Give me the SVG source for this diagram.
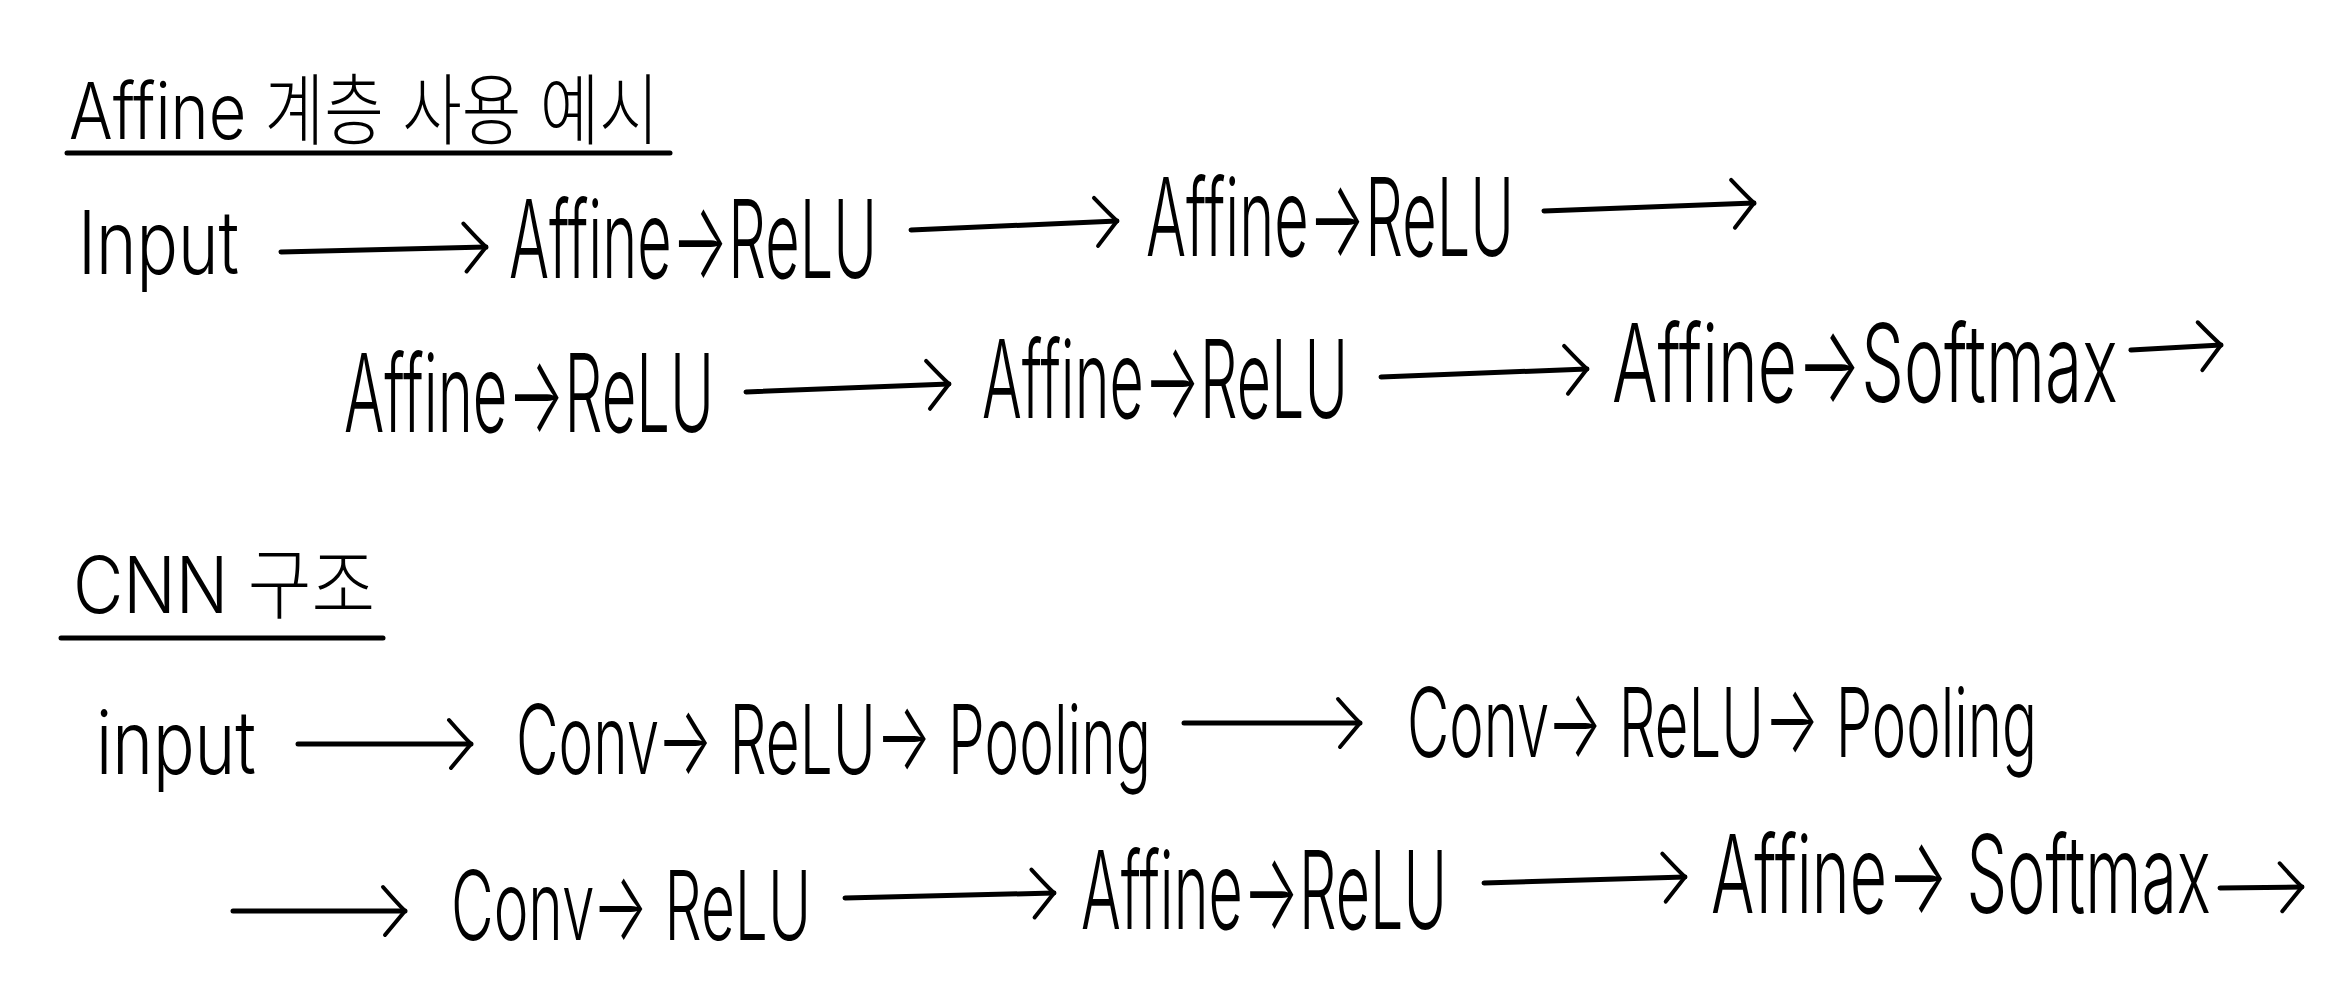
<svg xmlns="http://www.w3.org/2000/svg" width="2343" height="1000" viewBox="0 0 2343 1000">
<style>
.t{font-family:Inter,"Liberation Sans","Noto Sans CJK KR",sans-serif;font-weight:300;fill:#000}
.a{font-size:108px}
.v{font-size:96px}
.h{font-family:Inter,"Noto Sans CJK KR","Liberation Sans",sans-serif;font-weight:300;fill:#000;font-size:78px}
.ul{stroke:#000;stroke-width:5;stroke-linecap:round}
.c{stroke:#000;stroke-width:5;fill:none;stroke-linecap:round}
</style>
<defs>
<marker id="ah" viewBox="-28 -30 34 60" markerWidth="34" markerHeight="60" markerUnits="userSpaceOnUse" refX="0" refY="0" orient="auto">
<path d="M -22 -24 Q -8 -8 0 0 Q -10 12 -20 24" fill="none" stroke="#000" stroke-width="4" stroke-linecap="round" stroke-linejoin="round"/>
</marker>
</defs>
<rect width="2343" height="1000" fill="#fff"/>
<g id="title1">
<text class="h" x="69" y="139" textLength="590" lengthAdjust="spacingAndGlyphs">Affine 계층 사용 예시</text>
<line class="ul" x1="67" y1="153" x2="670" y2="153"/>
</g>
<g id="title2">
<text class="h" x="73" y="613" textLength="302" lengthAdjust="spacingAndGlyphs">CNN 구조</text>
<line class="ul" x1="61" y1="638" x2="383" y2="638"/>
</g>
<g id="input1"><text class="t" x="78" y="274" font-size="88" textLength="161" lengthAdjust="spacingAndGlyphs">Input</text></g>
<g id="affrelu1"><text class="t a" x="509" y="278" textLength="368" lengthAdjust="spacingAndGlyphs">Affine→ReLU</text></g>
<g id="affrelu2"><text class="t a" x="1146" y="256" textLength="368" lengthAdjust="spacingAndGlyphs">Affine→ReLU</text></g>
<g id="affrelu3"><text class="t a" x="344" y="432" textLength="370" lengthAdjust="spacingAndGlyphs">Affine→ReLU</text></g>
<g id="affrelu4"><text class="t a" x="982" y="418" textLength="366" lengthAdjust="spacingAndGlyphs">Affine→ReLU</text></g>
<g id="affsoft1"><text class="t a" x="1612" y="402" textLength="506" lengthAdjust="spacingAndGlyphs">Affine→Softmax</text></g>
<g id="input2"><text class="t" x="96" y="774" font-size="88" textLength="160" lengthAdjust="spacingAndGlyphs">input</text></g>
<g id="crp1"><text class="t v" x="516" y="774" textLength="635" lengthAdjust="spacingAndGlyphs">Conv→ ReLU→ Pooling</text></g>
<g id="crp2"><text class="t v" x="1407" y="757" textLength="630" lengthAdjust="spacingAndGlyphs">Conv→ ReLU→ Pooling</text></g>
<g id="cr1"><text class="t v" x="451" y="940" textLength="360" lengthAdjust="spacingAndGlyphs">Conv→ ReLU</text></g>
<g id="affrelu5"><text class="t a" x="1081" y="929" textLength="366" lengthAdjust="spacingAndGlyphs">Affine→ReLU</text></g>
<g id="affsoft2"><text class="t a" x="1711" y="913" textLength="500" lengthAdjust="spacingAndGlyphs">Affine→ Softmax</text></g>
<g id="connectors">
<path class="c" marker-end="url(#ah)" d="M 281 252 L 486 247"/>
<path class="c" marker-end="url(#ah)" d="M 911 230 L 1117 221"/>
<path class="c" marker-end="url(#ah)" d="M 1544 211 L 1754 203"/>
<path class="c" marker-end="url(#ah)" d="M 746 392 L 949 384"/>
<path class="c" marker-end="url(#ah)" d="M 1381 377 L 1587 369"/>
<path class="c" marker-end="url(#ah)" d="M 2131 350 L 2221 345"/>
<path class="c" marker-end="url(#ah)" d="M 298 744 L 471 744"/>
<path class="c" marker-end="url(#ah)" d="M 1184 723 L 1360 723"/>
<path class="c" marker-end="url(#ah)" d="M 233 911 L 405 911"/>
<path class="c" marker-end="url(#ah)" d="M 845 898 L 1054 893"/>
<path class="c" marker-end="url(#ah)" d="M 1484 883 L 1685 877"/>
<path class="c" marker-end="url(#ah)" d="M 2220 888 L 2302 887"/>
</g>
</svg>
